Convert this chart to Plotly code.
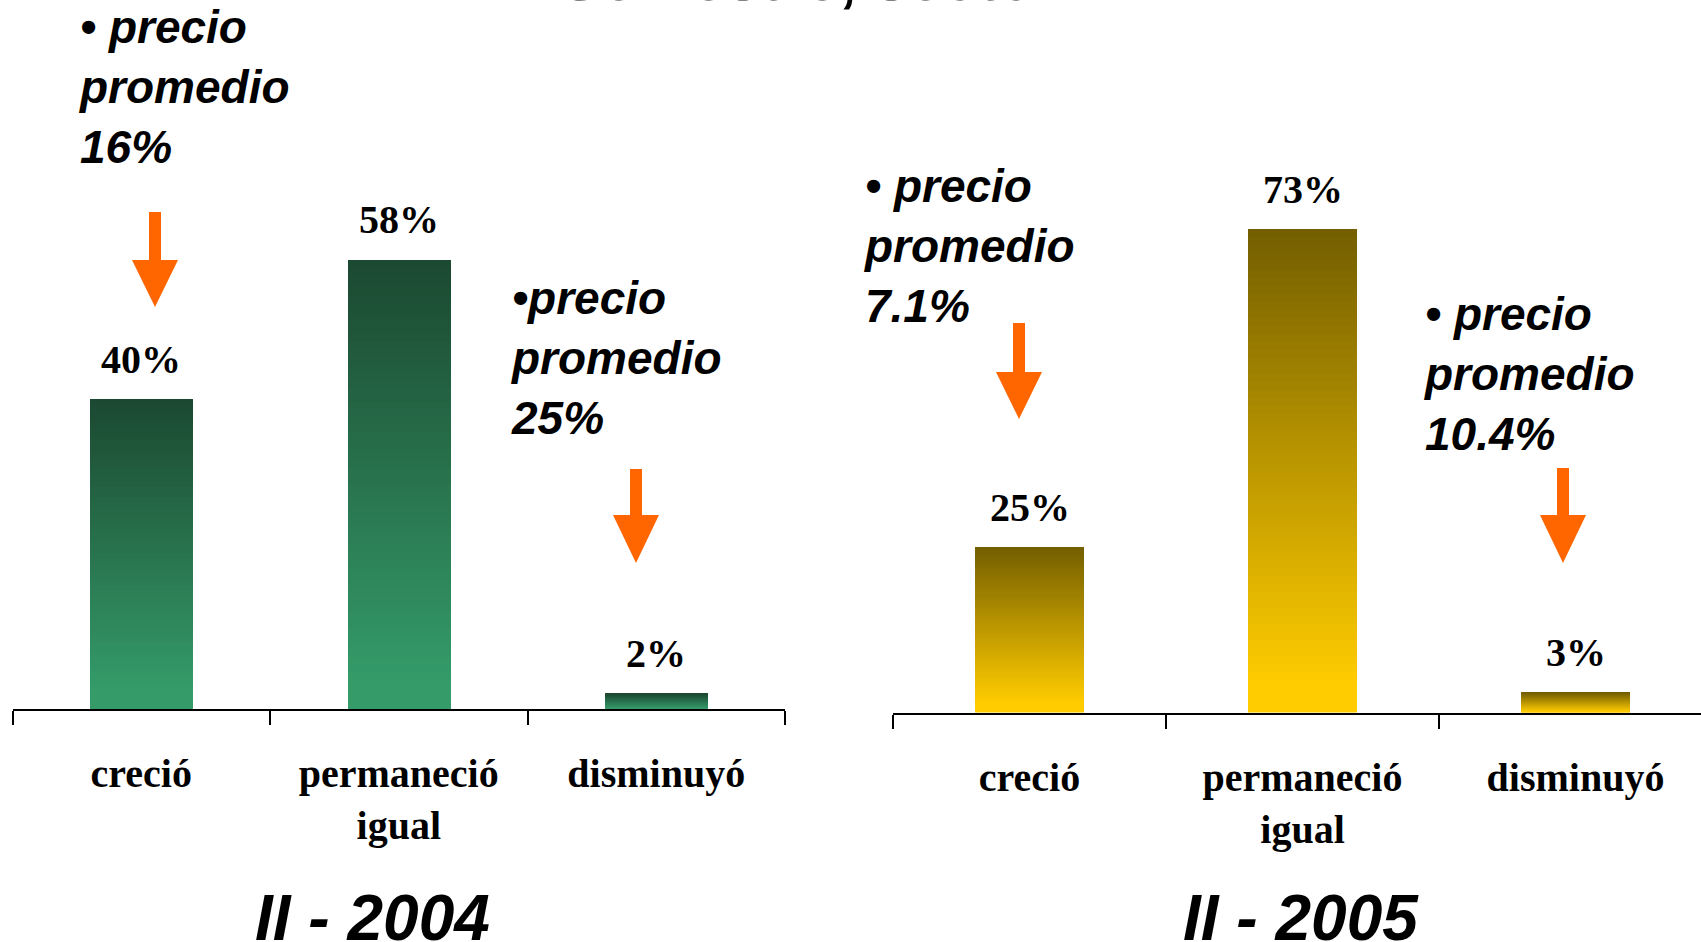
import plotly.graph_objects as go

# ---------------- data ----------------
categories = ["creció", "permaneció igual", "disminuyó"]
tick_labels = ["creció", "permaneció<br>igual", "disminuyó"]
values_2004 = [40, 58, 2]
values_2005 = [25, 73, 3]
value_labels_2004 = ["40%", "58%", "2%"]
value_labels_2005 = ["25%", "73%", "3%"]
period_labels = ["II - 2004", "II - 2005"]
price_notes_2004 = ["• precio<br>promedio<br>16%", "•precio<br>promedio<br>25%"]
price_notes_2005 = ["• precio<br>promedio<br>7.1%", "• precio<br>promedio<br>10.4%"]
title_text = "Semestre, sector"

W, H = 1701, 942
N_SEG = 60

GREEN_TOP, GREEN_BOT = (0x1b, 0x48, 0x31), (0x34, 0x9b, 0x69)
GOLD_TOP, GOLD_BOT = (0x73, 0x5e, 0x00), (0xff, 0xcc, 0x00)


def mix(c1, c2, t):
    return "rgb(%d,%d,%d)" % tuple(round(a + (b - a) * t) for a, b in zip(c1, c2))


def px_x(x):
    return x / W


def px_y(y):
    return 1 - y / H


fig = go.Figure()


def add_gradient_bars(values, xa, ya, top, bot):
    for i in range(N_SEG):
        frac = (i + 0.5) / N_SEG  # 0 bottom -> 1 top
        t = min(1.0, max(0.0, (frac - 0.06) / 0.94))
        fig.add_trace(go.Bar(
            x=categories,
            y=[v / N_SEG for v in values],
            base=[v * i / N_SEG for v in values],
            width=0.4,
            marker=dict(color=mix(bot, top, t), line=dict(width=0)),
            xaxis=xa, yaxis=ya, showlegend=False, hoverinfo="skip",
        ))


add_gradient_bars(values_2004, "x", "y", GREEN_TOP, GREEN_BOT)
add_gradient_bars(values_2005, "x2", "y2", GOLD_TOP, GOLD_BOT)

serif_bold = dict(family="Liberation Serif", size=40, color="black", weight="bold")

axis_common = dict(
    type="category", categoryorder="array", categoryarray=categories,
    tickvals=categories, ticktext=tick_labels,
    tickson="boundaries", ticks="outside", ticklen=14, tickwidth=2, tickcolor="black",
    showline=True, linewidth=2, linecolor="black", showgrid=False, zeroline=False,
    tickfont=serif_bold,
    ticklabelstandoff=28,
)
yaxis_common = dict(visible=False, showgrid=False, zeroline=False, fixedrange=True)

fig.update_layout(
    width=W, height=H,
    margin=dict(l=0, r=0, t=0, b=0),
    paper_bgcolor="white", plot_bgcolor="white",
    barmode="overlay", bargap=0,
    xaxis=dict(domain=[12.5 / W, 785 / W], range=[-0.5, 2.5], anchor="y", **axis_common),
    yaxis=dict(domain=[1 - 709 / H, 1], range=[0, 709 / 7.75], anchor="x", **yaxis_common),
    xaxis2=dict(domain=[893 / W, 1], range=[-0.5, -0.5 + 808 / 273], anchor="y2", **axis_common),
    yaxis2=dict(domain=[1 - 712.5 / H, 1], range=[0, 712.5 / 6.62], anchor="x2", **yaxis_common),
    showlegend=False,
)

annotations = []
# value labels
for xr, yr, vals, labs in (("x", "y", values_2004, value_labels_2004),
                           ("x2", "y2", values_2005, value_labels_2005)):
    for c, v, lab in zip(categories, vals, labs):
        annotations.append(dict(
            x=c, y=v, xref=xr, yref=yr, text=lab, showarrow=False,
            yanchor="middle", yshift=40,
            font=serif_bold,
        ))

# price notes
note_font = dict(family="Liberation Sans", size=46, color="black", weight="bold", style="italic")
note_pos = [(76, 87), (508, 358), (861, 246), (1421, 374)]
for text, (lx, cy) in zip(price_notes_2004 + price_notes_2005, note_pos):
    annotations.append(dict(
        x=px_x(lx), y=px_y(cy), xref="paper", yref="paper", text=text,
        showarrow=False, xanchor="left", yanchor="middle", align="left",
        font=note_font,
    ))

# period labels
for text, cx in zip(period_labels, (372, 1301)):
    annotations.append(dict(
        x=px_x(cx), y=px_y(918), xref="paper", yref="paper", text=text,
        showarrow=False, xanchor="center", yanchor="middle",
        font=dict(family="Liberation Sans", size=64, color="black", weight="bold", style="italic"),
    ))

# title, clipped at the top edge as in the source
annotations.append(dict(
    x=px_x(810), y=px_y(-21), xref="paper", yref="paper", text=title_text,
    showarrow=False, xanchor="center", yanchor="middle",
    font=dict(family="Liberation Sans", size=62, color="black", weight="bold"),
))

fig.update_layout(annotations=annotations)

# orange arrows (decorations)
arrows = [(155, 212, 260, 307), (636, 469, 515, 563), (1019, 323, 372, 419), (1563, 468, 515, 563)]
for cx, top, head, tip in arrows:
    sw, hw = 6, 23
    pts = [(cx - sw, top), (cx + sw, top), (cx + sw, head), (cx + hw, head),
           (cx, tip), (cx - hw, head), (cx - sw, head)]
    path = "M " + " L ".join("%f,%f" % (px_x(x), px_y(y)) for x, y in pts) + " Z"
    fig.add_shape(type="path", path=path, xref="paper", yref="paper",
                  fillcolor="#ff6600", line=dict(width=0))

fig.write_html("out.html", config={"displayModeBar": False},
               post_script="document.body.style.margin='0px';")
